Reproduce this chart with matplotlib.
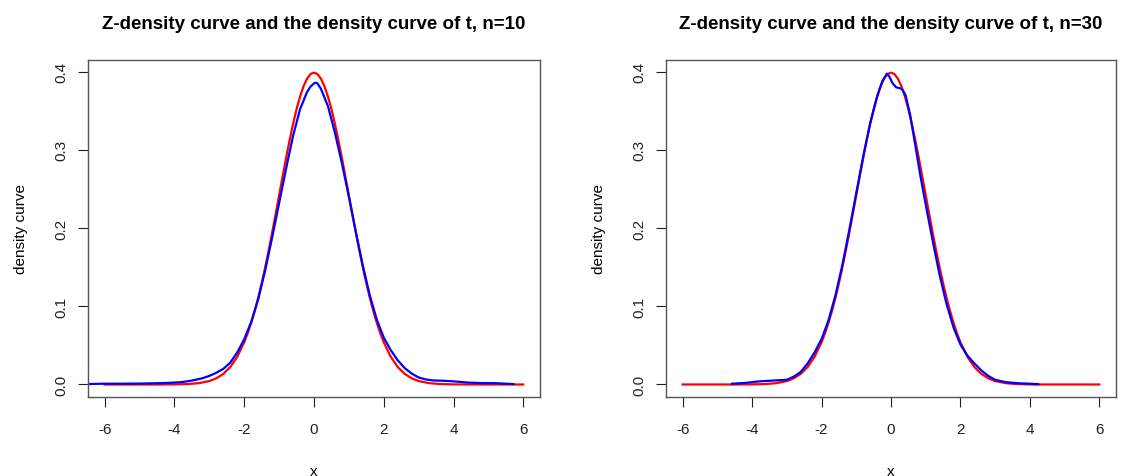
import matplotlib
matplotlib.use("Agg")
import matplotlib.pyplot as plt

# ---- data ----
red_x = [-6.0, -5.5, -5.0, -4.5, -4.0, -3.6, -3.3, -3.0, -2.8, -2.6, -2.4, -2.2, -2.0,
         -1.9, -1.8, -1.7, -1.6, -1.5, -1.4, -1.3, -1.2, -1.1, -1.0, -0.9, -0.8, -0.7,
         -0.6, -0.5, -0.4, -0.3, -0.2, -0.1, 0.0, 0.1, 0.2, 0.3, 0.4, 0.5, 0.6, 0.7,
         0.8, 0.9, 1.0, 1.1, 1.2, 1.3, 1.4, 1.5, 1.6, 1.7, 1.8, 1.9, 2.0, 2.2, 2.4,
         2.6, 2.8, 3.0, 3.3, 3.6, 4.0, 4.5, 5.0, 5.5, 6.0]
red_y = [0.0, 0.0, 0.0, 0.0, 0.0001, 0.0006, 0.0017, 0.0044, 0.0079, 0.0136, 0.0224,
         0.0355, 0.054, 0.0656, 0.079, 0.094, 0.1109, 0.1295, 0.1497, 0.1714, 0.1942,
         0.2179, 0.242, 0.2661, 0.2897, 0.3123, 0.3332, 0.3521, 0.3683, 0.3814, 0.391,
         0.397, 0.3989, 0.397, 0.391, 0.3814, 0.3683, 0.3521, 0.3332, 0.3123, 0.2897,
         0.2661, 0.242, 0.2179, 0.1942, 0.1714, 0.1497, 0.1295, 0.1109, 0.094, 0.079,
         0.0656, 0.054, 0.0355, 0.0224, 0.0136, 0.0079, 0.0044, 0.0017, 0.0006, 0.0001,
         0.0, 0.0, 0.0, 0.0]

blue10_x = [-6.6, -6.0, -5.5, -5.0, -4.6, -4.2, -3.8, -3.5, -3.2, -3.0, -2.8, -2.6, -2.4,
            -2.2, -2.0, -1.8, -1.6, -1.4, -1.2, -1.0, -0.8, -0.6, -0.4, -0.2, -0.1, 0.0,
            0.05, 0.1, 0.2, 0.4, 0.6, 0.8, 1.0, 1.2, 1.4, 1.6, 1.8, 2.0, 2.2, 2.4, 2.6,
            2.8, 3.0, 3.2, 3.4, 3.7, 4.0, 4.4, 4.8, 5.2, 5.5, 5.72]
blue10_y = [0.0005, 0.001, 0.001, 0.0012, 0.0015, 0.002, 0.003, 0.005, 0.008, 0.011,
            0.015, 0.020, 0.028, 0.041, 0.058, 0.080, 0.109, 0.146, 0.188, 0.232, 0.276,
            0.318, 0.352, 0.374, 0.381, 0.385, 0.386, 0.385, 0.378, 0.356, 0.322, 0.283,
            0.240, 0.195, 0.152, 0.114, 0.083, 0.060, 0.044, 0.031, 0.021, 0.014, 0.009,
            0.0065, 0.0052, 0.0048, 0.004, 0.0025, 0.0018, 0.0017, 0.001, 0.0005]

blue30_x = [-4.58, -4.2, -3.8, -3.4, -3.0, -2.8, -2.6, -2.4, -2.2, -2.0, -1.8, -1.6, -1.4,
            -1.2, -1.0, -0.8, -0.6, -0.4, -0.25, -0.12, -0.05, 0.05, 0.15, 0.25, 0.33,
            0.42, 0.55, 0.7, 0.85, 1.0, 1.2, 1.4, 1.6, 1.8, 2.0, 2.2, 2.4, 2.6, 2.8, 3.0,
            3.3, 3.7, 4.0, 4.24]
blue30_y = [0.001, 0.002, 0.004, 0.005, 0.006, 0.010, 0.016, 0.027, 0.041, 0.058, 0.082,
            0.114, 0.153, 0.198, 0.245, 0.292, 0.334, 0.368, 0.388, 0.3975, 0.394, 0.385,
            0.380, 0.379, 0.377, 0.370, 0.345, 0.306, 0.266, 0.230, 0.184, 0.140, 0.103,
            0.073, 0.051, 0.037, 0.027, 0.018, 0.011, 0.006, 0.003, 0.0015, 0.001, 0.0004]

titles = ["Z-density curve and the density curve of t, n=10",
          "Z-density curve and the density curve of t, n=30"]
x_ticks = [-6, -4, -2, 0, 2, 4, 6]
y_ticks = [0.0, 0.1, 0.2, 0.3, 0.4]
y_tick_labels = ["0.0", "0.1", "0.2", "0.3", "0.4"]

plt.rcParams['font.family'] = ['Liberation Sans', 'DejaVu Sans']

fig = plt.figure(figsize=(11.22, 4.77), dpi=100)
W, H = 1122, 477
boxes = [(88, 540), (666, 1116)]
top, bottom = 61, 398
blues = [(blue10_x, blue10_y), (blue30_x, blue30_y)]

for i, (l, r) in enumerate(boxes):
    ax = fig.add_axes([l / W, 1 - bottom / H, (r - l) / W, (bottom - top) / H])
    ax.plot(red_x, red_y, color='red', lw=1.6, solid_joinstyle='round')
    bx, by = blues[i]
    ax.plot(bx, by, color='blue', lw=1.6, solid_joinstyle='round')
    ax.set_xlim(-6.48, 6.48)
    ax.set_ylim(-0.016, 0.415)
    ax.set_xticks(x_ticks)
    ax.set_xticklabels([str(t) for t in x_ticks])
    ax.set_yticks(y_ticks)
    ax.set_yticklabels(y_tick_labels, rotation=90, va='center')
    ax.tick_params(axis='both', direction='out', length=7, width=0.8,
                   labelsize=11, colors='#222222')
    ax.tick_params(axis='x', pad=11)
    ax.tick_params(axis='y', pad=7)
    for s in ax.spines.values():
        s.set_color('#555555')
        s.set_linewidth(1.0)
    ax.set_title(titles[i], fontsize=13.5, fontweight='bold', pad=23)
    ax.set_xlabel("x", fontsize=11, labelpad=20)
    ax.set_ylabel("density curve", fontsize=11, labelpad=19)

fig.savefig("out.png", dpi=100)
